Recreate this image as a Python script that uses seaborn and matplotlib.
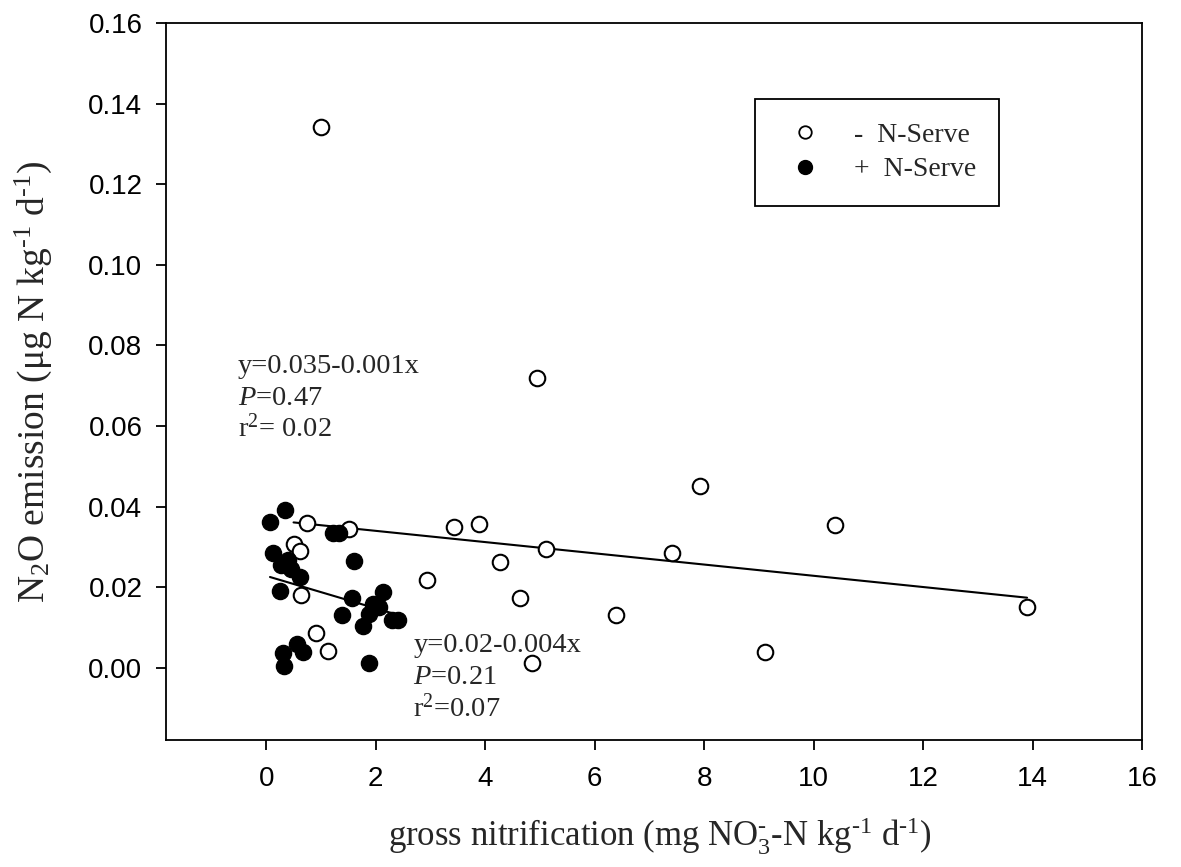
import numpy as np
import pandas as pd
import matplotlib
matplotlib.use("Agg")
import matplotlib.pyplot as plt
from matplotlib.lines import Line2D
import seaborn as sns

# Gross nitrification (x) and N2O emission (y) without nitrification inhibitor
x_minus = [1.01, 4.94, 7.92, 10.40, 0.74, 1.51, 3.43, 3.88, 0.50, 0.61, 5.12,
           4.27, 7.42, 2.93, 0.63, 4.64, 6.39, 0.91, 1.13, 9.11, 4.86, 13.90]
y_minus = [0.1343, 0.0718, 0.0451, 0.0354, 0.0360, 0.0344, 0.0350, 0.0358,
           0.0307, 0.0291, 0.0296, 0.0262, 0.0284, 0.0217, 0.0180, 0.0173,
           0.0132, 0.0086, 0.0042, 0.0040, 0.0011, 0.0152]

# Same measurements with N-Serve applied
x_plus = [0.07, 0.35, 1.22, 1.33, 0.12, 0.39, 0.27, 0.46, 0.61, 1.61, 0.26,
          1.57, 2.13, 1.95, 2.07, 1.88, 1.38, 2.41, 2.29, 1.77, 0.56, 0.30,
          0.68, 0.32, 1.88]
y_plus = [0.0363, 0.0392, 0.0334, 0.0334, 0.0285, 0.0268, 0.0254, 0.0245,
          0.0226, 0.0264, 0.0190, 0.0174, 0.0188, 0.0159, 0.0151, 0.0134,
          0.0132, 0.0118, 0.0118, 0.0103, 0.0059, 0.0036, 0.0040, 0.0005,
          0.0011]

legend_labels = ["-  N-Serve", "+  N-Serve"]
x_ticks = [0, 2, 4, 6, 8, 10, 12, 14, 16]
y_ticks = [0.00, 0.02, 0.04, 0.06, 0.08, 0.10, 0.12, 0.14, 0.16]

df_minus = pd.DataFrame({"nitrif": x_minus, "n2o": y_minus})
df_plus = pd.DataFrame({"nitrif": x_plus, "n2o": y_plus})

sns.set_theme(style="ticks")
plt.rcParams.update({
    "font.family": ["Liberation Sans", "DejaVu Sans"],
    "mathtext.fontset": "custom",
    "mathtext.rm": "Liberation Serif",
    "mathtext.it": "Liberation Serif:italic",
    "mathtext.bf": "Liberation Serif:bold",
    "axes.edgecolor": "black",
    "axes.linewidth": 1.3,
    "xtick.color": "black",
    "ytick.color": "black",
})

HY = "\u2010"  # short hyphen used in exponents

fig = plt.figure(figsize=(11.81, 8.67), dpi=100)
ax = fig.add_axes([166 / 1181, 1 - 740 / 867, 976 / 1181, 717 / 867])

sns.scatterplot(data=df_minus, x="nitrif", y="n2o", ax=ax, s=125,
                facecolor="white", edgecolor="black", linewidth=1.5, zorder=3)
sns.scatterplot(data=df_plus, x="nitrif", y="n2o", ax=ax, s=135,
                color="black", edgecolor="black", linewidth=1.0, zorder=3)

# Least-squares lines for each treatment
sns.regplot(data=df_minus, x="nitrif", y="n2o", ax=ax, scatter=False,
            ci=None, truncate=True, color="black", line_kws={"lw": 1.5})
sns.regplot(data=df_plus, x="nitrif", y="n2o", ax=ax, scatter=False,
            ci=None, truncate=True, color="black", line_kws={"lw": 1.5})

ax.set_xlim(-1.83, 16)
ax.set_ylim(-0.0179, 0.16)
ax.set_xticks(x_ticks)
ax.set_yticks(y_ticks)
ax.set_xticklabels([str(t) for t in x_ticks])
ax.set_yticklabels([f"{t:.2f}" for t in y_ticks])
ax.tick_params(direction="out", length=7, width=1.3, labelsize=20)
ax.tick_params(axis="x", pad=12)
ax.tick_params(axis="y", pad=10)
for side in ["top", "right", "left", "bottom"]:
    ax.spines[side].set_visible(True)
    ax.spines[side].set_linewidth(1.3)

serif = "Liberation Serif"
ax.set_xlabel(f"gross nitrification (mg NO$_3^{{{HY}}}$-N kg$^{{{HY}1}}$ d$^{{{HY}1}}$)",
              fontsize=25, family=serif)
ax.set_ylabel(f"N$_2$O emission (μg N kg$^{{{HY}1}}$ d$^{{{HY}1}}$)",
              fontsize=27, family=serif)
ax.xaxis.set_label_coords(0.506, -0.106)
ax.yaxis.set_label_coords(-0.115, 0.50)

ann_kw = dict(fontsize=20.5, family=serif, ha="left", va="center")
ax.text(-0.52, 0.0747, "y=0.035-0.001x", **ann_kw)
ax.text(-0.52, 0.0668, "$P$=0.47", **ann_kw)
ax.text(-0.52, 0.0594, "r$^{2}$= 0.02", **ann_kw)
ax.text(2.69, 0.0056, "y=0.02-0.004x", **ann_kw)
ax.text(2.69, -0.0025, "$P$=0.21", **ann_kw)
ax.text(2.69, -0.0100, "r$^{2}$=0.07", **ann_kw)

handles = [
    Line2D([], [], ls="none", marker="o", markersize=9, markerfacecolor="white",
           markeredgecolor="black", markeredgewidth=1.3),
    Line2D([], [], ls="none", marker="o", markersize=10, markerfacecolor="black",
           markeredgecolor="black"),
]
leg = ax.legend(handles, legend_labels, loc="upper left",
                bbox_to_anchor=(755 / 1181, 1 - 99 / 867),
                bbox_transform=fig.transFigure,
                prop={"family": serif, "size": 20}, frameon=True,
                fancybox=False, borderpad=0.85, labelspacing=0.32,
                handletextpad=0.83, borderaxespad=0.0, handlelength=1.87)
leg.get_frame().set_edgecolor("black")
leg.get_frame().set_linewidth(1.3)
leg.get_frame().set_alpha(1)

fig.savefig("out.png", dpi=100, facecolor="white")
